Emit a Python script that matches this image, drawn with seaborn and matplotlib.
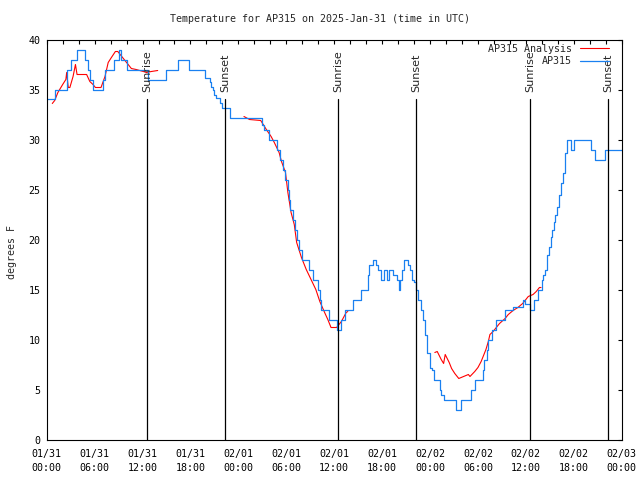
import pandas as pd
import matplotlib
matplotlib.use("Agg")
import matplotlib.pyplot as plt
import seaborn as sns

# ---------------------- DATA ----------------------
# hours since 2025-01-31 00:00 UTC, temperature in F
obs_hours = [0.0, 1.0, 2.5, 2.6, 3.1, 3.8, 4.8, 5.2, 5.4, 5.8, 7.0, 7.3, 8.4, 9.0, 9.3,
             10.0, 12.7, 15.0, 16.4, 17.8, 19.8, 20.4, 20.6, 20.8, 21.0, 21.2, 21.7,
             21.9, 22.9, 27.0, 27.2, 27.8, 28.8, 29.2, 29.6, 29.9, 30.2, 30.3, 30.5,
             30.8, 31.1, 31.4, 31.6, 32.0, 32.9, 33.4, 34.0, 34.2, 34.4, 35.4, 36.3,
             36.8, 37.4, 38.4, 39.3, 40.2, 40.4, 40.8, 41.2, 41.5, 41.8, 42.2, 42.6,
             42.9, 43.4, 43.9, 44.1, 44.3, 44.5, 44.8, 45.2, 45.5, 45.7, 46.0, 46.3,
             46.5, 46.9, 47.1, 47.4, 47.6, 48.0, 48.2, 48.5, 49.2, 49.4, 49.8, 51.2,
             51.9, 53.1, 53.6, 54.6, 54.8, 55.1, 55.3, 55.8, 56.3, 57.4, 58.4, 59.6,
             59.9, 60.5, 61.0, 61.5, 62.0, 62.2, 62.4, 62.6, 62.7, 62.9, 63.1, 63.3,
             63.5, 63.7, 63.9, 64.2, 64.4, 64.6, 64.9, 65.2, 65.7, 66.0, 68.2, 68.6,
             69.9, 72.0]
obs_temp = [34.1, 35, 36, 37, 38, 39, 38, 37, 36, 35, 36, 37, 38, 39, 38,
            37, 36, 37, 38, 37, 36.2, 35.8, 35.3, 35, 34.5, 34.2, 33.7,
            33.2, 32.2, 31.5, 31, 30, 29, 28, 27, 26, 25, 24, 23,
            22, 21, 20, 19, 18, 17, 16, 15, 14, 13, 12, 11,
            12, 13, 14, 15, 16.5, 17.5, 18, 17.5, 17, 16, 17, 16,
            17, 16.5, 16, 15, 16, 17, 18, 17.5, 17, 16, 15.8, 15,
            14, 13, 12, 10.5, 8.7, 7.2, 7, 6, 5, 4.5, 4, 3,
            4, 5, 6, 7, 8, 9, 10, 11, 12, 13, 13.3, 14,
            13.6, 13, 14, 15, 16, 16.5, 17, 17.7, 18.5, 19.3, 20.3, 21,
            21.8, 22.5, 23.3, 24.5, 25.7, 26.7, 28.7, 30, 29, 30, 29, 28,
            29, 29]

ana_hours_1 = [0.7, 1.0, 1.4, 2.0, 2.4, 2.5, 2.7, 2.9, 3.3, 3.6, 3.8, 5.0, 5.4, 5.8,
               6.1, 6.8, 7.3, 7.7, 8.1, 8.6, 8.9, 9.4, 10.0, 10.6, 11.2, 12.1,
               12.5, 13.1, 13.9]
ana_temp_1 = [33.6, 33.9, 34.7, 35.5, 36, 36.7, 35.2, 35.2, 36.3, 37.5, 36.5, 36.5,
              35.8, 35.5, 35.2, 35.2, 36.3, 37.7, 38.2, 38.8, 38.8, 38.3, 37.7,
              37.1, 37, 36.8, 36.7, 36.8, 36.9]

ana_hours_2 = [24.7, 25.4, 26.8, 27.5, 28.1, 28.5, 29.1, 29.4, 29.9, 30.2, 30.6,
               31.0, 31.3, 31.9, 32.5, 33.1, 33.7, 34.2, 34.8, 35.2, 35.6, 36.3,
               36.9, 37.5, 37.7]
ana_temp_2 = [32.3, 32, 31.9, 31, 30.3, 29.7, 28.7, 27.8, 26.7, 24.7, 22.7,
              21.5, 19.7, 18.2, 17.0, 16.0, 15.0, 13.8, 12.7, 12.0, 11.2, 11.2,
              11.8, 12.7, 12.8]

ana_hours_3 = [48.6, 48.9, 49.4, 49.7, 49.9, 50.4, 50.7, 51.1, 51.6, 52.2, 52.8,
               53.0, 53.6, 54.0, 54.4, 55.0, 55.3, 55.5, 55.9, 56.3, 56.7, 57.4,
               57.8, 58.4, 59.0, 59.6, 60.3, 60.9, 61.3, 61.7, 61.9]
ana_temp_3 = [8.7, 8.8, 8.0, 7.6, 8.5, 7.7, 7.1, 6.6, 6.1, 6.3, 6.5,
              6.3, 6.8, 7.2, 7.8, 9.0, 9.8, 10.5, 10.8, 11.2, 11.6, 12.1,
              12.5, 12.9, 13.2, 13.6, 14.3, 14.5, 14.8, 15.2, 15.2]

sun_hours = [12.56, 22.37, 36.48, 46.25, 60.52, 70.29]
sun_labels = ["Sunrise", "Sunset", "Sunrise", "Sunset", "Sunrise", "Sunset"]

tick_hours = list(range(0, 73, 2))
tick_labels = ["01/31\n00:00", "01/31\n06:00", "01/31\n12:00", "01/31\n18:00",
               "02/01\n00:00", "02/01\n06:00", "02/01\n12:00", "02/01\n18:00",
               "02/02\n00:00", "02/02\n06:00", "02/02\n12:00", "02/02\n18:00",
               "02/03\n00:00"]

# ---------------------- STYLE ----------------------
sns.set_style("white")
plt.rcParams['font.family'] = ['DejaVu Sans Mono']
mono = 7.2

fig = plt.figure(figsize=(6.4, 4.8), dpi=100)
ax = fig.add_axes([46.7 / 640, 1 - 439.5 / 480, 575 / 640, 400 / 480])

red = '#ff0000'
blue = '#1a80f0'

ana_segments = [(ana_hours_1, ana_temp_1), (ana_hours_2, ana_temp_2), (ana_hours_3, ana_temp_3)]
for i, (hh, tt) in enumerate(ana_segments):
    seg = pd.DataFrame({'hours': hh, 'temp': tt})
    sns.lineplot(data=seg, x='hours', y='temp', ax=ax, color=red, linewidth=0.8,
                 estimator=None, sort=False,
                 label='AP315 Analysis' if i == 0 else None)

obs = pd.DataFrame({'hours': obs_hours, 'temp': obs_temp})
sns.lineplot(data=obs, x='hours', y='temp', ax=ax, color=blue, linewidth=0.9,
             estimator=None, sort=False, drawstyle='steps-post', label='AP315')

# sunrise / sunset markers
for h, lab in zip(sun_hours, sun_labels):
    ax.axvline(h, ymin=0, ymax=0.852, color='black', linewidth=0.9)
    ax.text(h, 0.868, lab, transform=ax.get_xaxis_transform(), rotation=90,
            ha='center', va='bottom', fontsize=8, family='DejaVu Sans')

ax.set_xlim(0, 72)
ax.set_ylim(0, 40)
ax.set_xticks(tick_hours)
ax.set_xticklabels([tick_labels[h // 6] if h % 6 == 0 else '' for h in tick_hours],
                   fontsize=mono, linespacing=1.45)
ax.set_yticks(range(0, 41, 5))
ax.set_yticklabels([str(v) for v in range(0, 41, 5)], fontsize=mono)
ax.tick_params(direction='in', length=3, width=0.8, top=True, right=True,
               colors='black')
ax.tick_params(axis='x', pad=7)
ax.tick_params(axis='y', pad=4.5)
for s in ax.spines.values():
    s.set_color('black')
    s.set_linewidth(0.8)

ax.set_xlabel('')
ax.set_ylabel('')
fig.text(12 / 640, 1 - 252 / 480, 'degrees F', rotation=90, ha='center', va='center',
         fontsize=mono)
fig.text(0.5, 1 - 19 / 480, 'Temperature for AP315 on 2025-Jan-31 (time in UTC)',
         ha='center', va='center', fontsize=mono)

leg = ax.legend(loc='upper right', bbox_to_anchor=(1 - 9 / 575, 1), frameon=False,
                markerfirst=False, fontsize=mono, handlelength=2.9,
                handletextpad=0.8, labelspacing=0.3, borderaxespad=0, borderpad=0.4)

fig.savefig('out.png', dpi=100)
